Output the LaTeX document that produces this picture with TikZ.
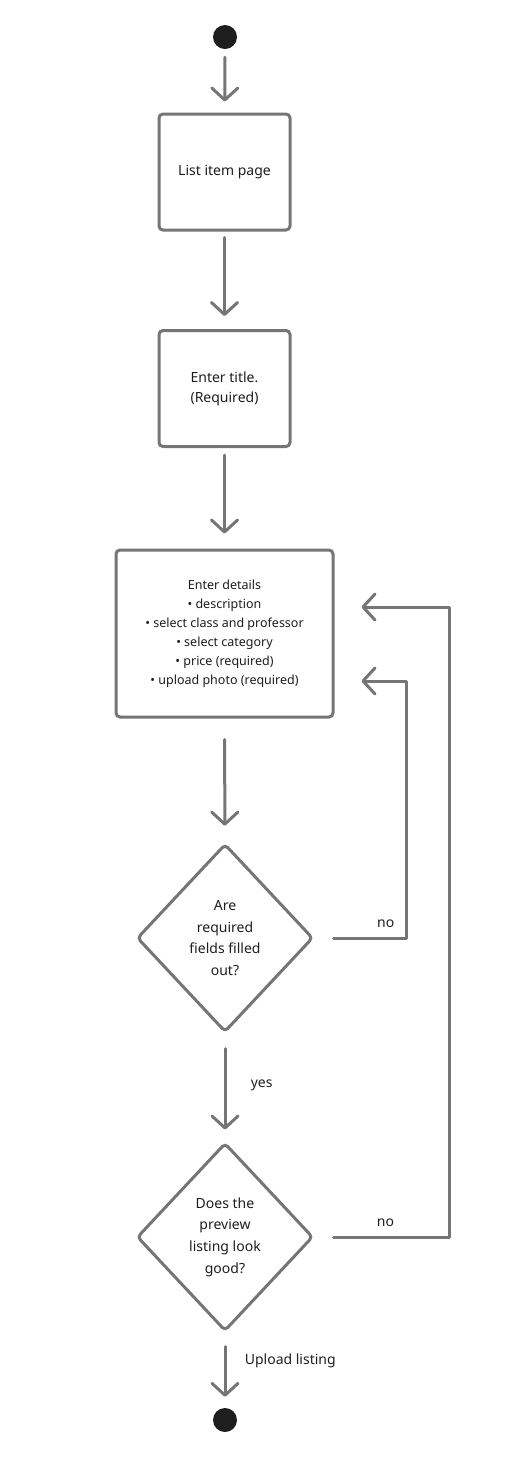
\documentclass[tikz,border=0pt]{standalone}
\usepackage{fontspec}
\setmainfont{Noto Sans}
\usetikzlibrary{arrows.meta,shapes.geometric,calc}
\definecolor{linegray}{HTML}{757575}
\definecolor{ink}{HTML}{1E1E1E}
\begin{document}
\begin{tikzpicture}[x=1pt,y=-1pt,
  every node/.style={text=ink,font=\fontsize{14}{20}\selectfont},
  conn/.style={draw=linegray,line width=3pt,line cap=round,line join=round,
    -{Straight Barb[length=12pt,width=26pt,line cap=round,line join=round]}},
  dot/.style={circle,fill=ink,minimum size=24pt,inner sep=0pt},
  stepbox/.style={draw=linegray,line width=3pt,rounded corners=4pt,fill=white,align=center,inner sep=0pt},
  decide/.style={diamond,draw=linegray,line width=3pt,rounded corners=4pt,align=center,inner sep=0pt,
    minimum width=176pt,minimum height=188pt,font=\fontsize{14}{21.7}\selectfont},
  lbl/.style={font=\fontsize{14}{16}\selectfont}
]
\useasboundingbox (0,0) rectangle (507,1460);
\node[dot] (start) at (225,37) {};
\node[stepbox,minimum width=131pt,minimum height=116pt] (b1) at (224.5,172) {\raisebox{-1.5pt}{List item page}};
\node[stepbox,minimum width=131pt,minimum height=116pt] (b2) at (224.5,388.5) {Enter title.\\(Required)};
\node[stepbox,minimum width=217pt,minimum height=167pt,font=\fontsize{12.5}{19}\selectfont] (b3) at (224.5,633.5)
  {Enter details\\ • description\\ • select class and professor\\ • select category\\ • price (required)\\ • upload photo (required)};
\node[decide] (d1) at (225,938) {Are\\required\\fields filled\\out?};
\node[decide] (d2) at (225,1237) {Does the\\preview\\listing look\\good?};
\node[dot] (stop) at (225,1420) {};

\draw[conn,shorten <=8pt,shorten >=11pt] (start) -- (b1);
\draw[conn,shorten <=6pt,shorten >=13pt] (b1) -- (b2);
\draw[conn,shorten <=7pt,shorten >=15pt] (b2) -- (b3);
\draw[conn,shorten <=21pt,shorten >=17pt] (b3) -- (d1);
\draw[conn,shorten <=15pt,shorten >=12pt] (d1) -- node[lbl,anchor=west,pos=0.48,xshift=21pt]{yes} (d2);
\draw[conn,shorten <=14pt,shorten >=11pt] (d2) -- node[lbl,anchor=west,pos=0.38,xshift=15pt]{Upload listing} (stop);

\coordinate (r1) at (406,681);
\coordinate (r2) at (449,607);
\draw[conn] ([xshift=19pt]d1.east) -- node[lbl,above=6pt,pos=0.72]{no} (d1.east -| r1) -- (r1) -- ([xshift=27pt]b3.east |- r1);
\draw[conn] ([xshift=19pt]d2.east) -- node[lbl,above=6pt,pos=0.45]{no} (d2.east -| r2) -- (r2) -- ([xshift=27pt]b3.east |- r2);
\end{tikzpicture}
\end{document}
